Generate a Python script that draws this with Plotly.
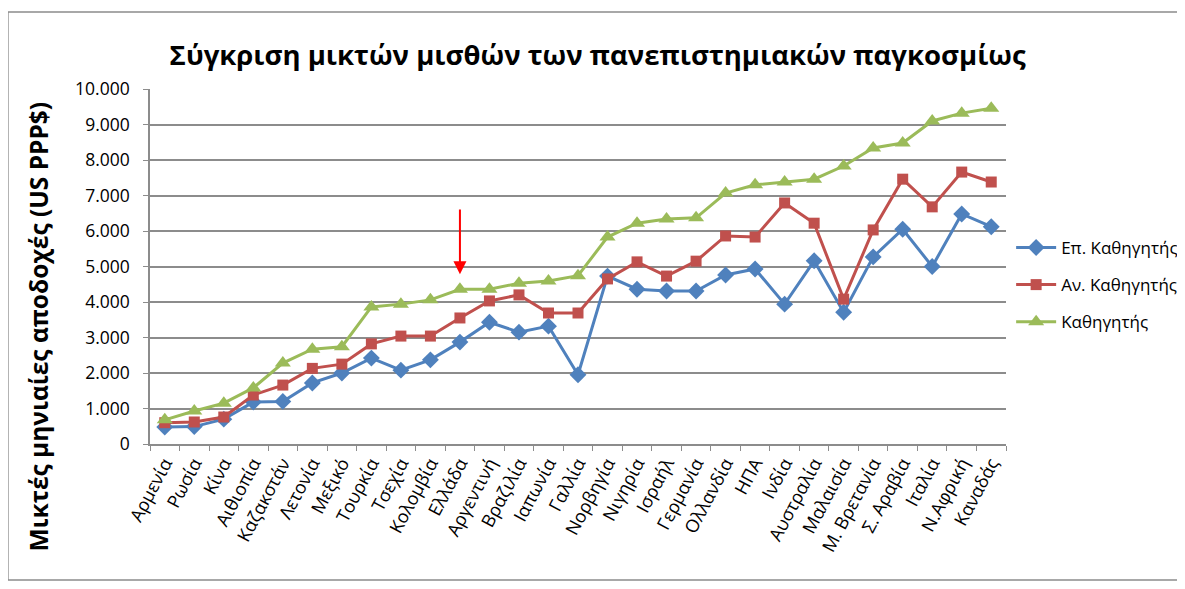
import plotly.graph_objects as go

countries = ["Αρμενία", "Ρωσία", "Κίνα", "Αιθιοπία", "Καζακστάν", "Λετονία", "Μεξικό",
             "Τουρκία", "Τσεχία", "Κολομβία", "Ελλάδα", "Αργεντινή", "Βραζιλία", "Ιαπωνία",
             "Γαλλία", "Νορβηγία", "Νιγηρία", "Ισραήλ", "Γερμανία", "Ολλανδία", "ΗΠΑ",
             "Ινδία", "Αυστραλία", "Μαλαισία", "Μ. Βρετανία", "Σ. Αραβία", "Ιταλία",
             "Ν.Αφρική", "Καναδάς"]

ep_kath = [480, 490, 700, 1180, 1200, 1720, 2000, 2420, 2080, 2370, 2870, 3430, 3150, 3320,
           1950, 4730, 4360, 4310, 4310, 4760, 4930, 3940, 5160, 3710, 5270, 6050, 5000,
           6480, 6120]
an_kath = [600, 620, 760, 1380, 1660, 2130, 2250, 2820, 3040, 3040, 3550, 4030, 4200, 3690,
           3690, 4650, 5130, 4730, 5150, 5860, 5830, 6790, 6220, 4080, 6030, 7460, 6680,
           7660, 7380]
kath = [680, 930, 1150, 1580, 2280, 2670, 2740, 3860, 3940, 4060, 4360, 4360, 4530, 4590,
        4740, 5830, 6220, 6340, 6370, 7070, 7300, 7380, 7460, 7830, 8340, 8480, 9100,
        9320, 9460]

series = [
    ("Επ. Καθηγητής", ep_kath, "#4F81BD", "diamond", 13),
    ("Αν. Καθηγητής", an_kath, "#C0504D", "square", 11),
    ("Καθηγητής", kath, "#9BBB59", "triangle-up", 14),
]

FONT = "Open Sans"

fig = go.Figure()
for i, (name, vals, color, sym, sz) in enumerate(series):
    fig.add_trace(go.Scatter(
        x=countries, y=vals, name=name, mode="lines+markers", legendgroup=f"g{i}",
        line=dict(color=color, width=3),
        marker=dict(symbol=sym, size=sz, color=color),
    ))

# Red arrow pointing at Greece
fig.add_annotation(
    x="Ελλάδα", y=4780, ax="Ελλάδα", ay=6650, xref="x", yref="y", axref="x", ayref="y",
    text="", showarrow=True, arrowhead=2, arrowsize=1.3, arrowwidth=2, arrowcolor="#FF0000",
)

# Y-axis title (centred on the chart area, like the original)
fig.add_annotation(
    text="<b>Μικτές μηνιαίες αποδοχές (US PPP$)</b>", textangle=-90,
    xref="paper", yref="paper", x=-0.13, y=0.33, xanchor="center", yanchor="middle",
    showarrow=False, font=dict(family=FONT, size=24.5, color="black"),
)

# Outer chart border
fig.add_shape(type="rect", xref="paper", yref="paper", x0=-0.166, x1=1.3, y0=-0.383, y1=1.217,
              line=dict(color="#8C8C8C", width=1.5), fillcolor="rgba(0,0,0,0)", layer="below")

fig.update_layout(
    width=1185, height=589,
    margin=dict(l=142, r=187, t=81, b=153, autoexpand=False),
    paper_bgcolor="white", plot_bgcolor="white",
    separators=",.",
    font=dict(family=FONT, size=16, color="black"),
    title=dict(text="<b>Σύγκριση μικτών μισθών των πανεπιστημιακών παγκοσμίως</b>",
               x=0.523, xref="paper", xanchor="center", y=0.919, yanchor="middle",
               font=dict(family=FONT, size=27.5, color="black")),
    showlegend=True,
    legend=dict(x=1.006, y=0.448, xanchor="left", yanchor="middle",
                font=dict(family=FONT, size=17), tracegroupgap=12, itemwidth=40,
                bgcolor="rgba(0,0,0,0)"),
    xaxis=dict(
        type="category", range=[-0.5, 28.5], tickangle=-62,
        tickson="boundaries", ticks="outside", ticklen=5, tickcolor="#8C8C8C",
        showline=True, linecolor="#8C8C8C", linewidth=1.5, showgrid=False,
        tickfont=dict(family=FONT, size=18),
    ),
    yaxis=dict(
        range=[0, 10000], dtick=1000, tickformat=",d", ticks="outside", ticklen=5,
        tickcolor="#8C8C8C", showline=True, linecolor="#8C8C8C", linewidth=1.5,
        showgrid=True, gridcolor="#8C8C8C", gridwidth=1.5, zeroline=False,
        ticklabelstandoff=10,
        tickfont=dict(family=FONT, size=17.5),
    ),
)

fig.write_html("out.html")
